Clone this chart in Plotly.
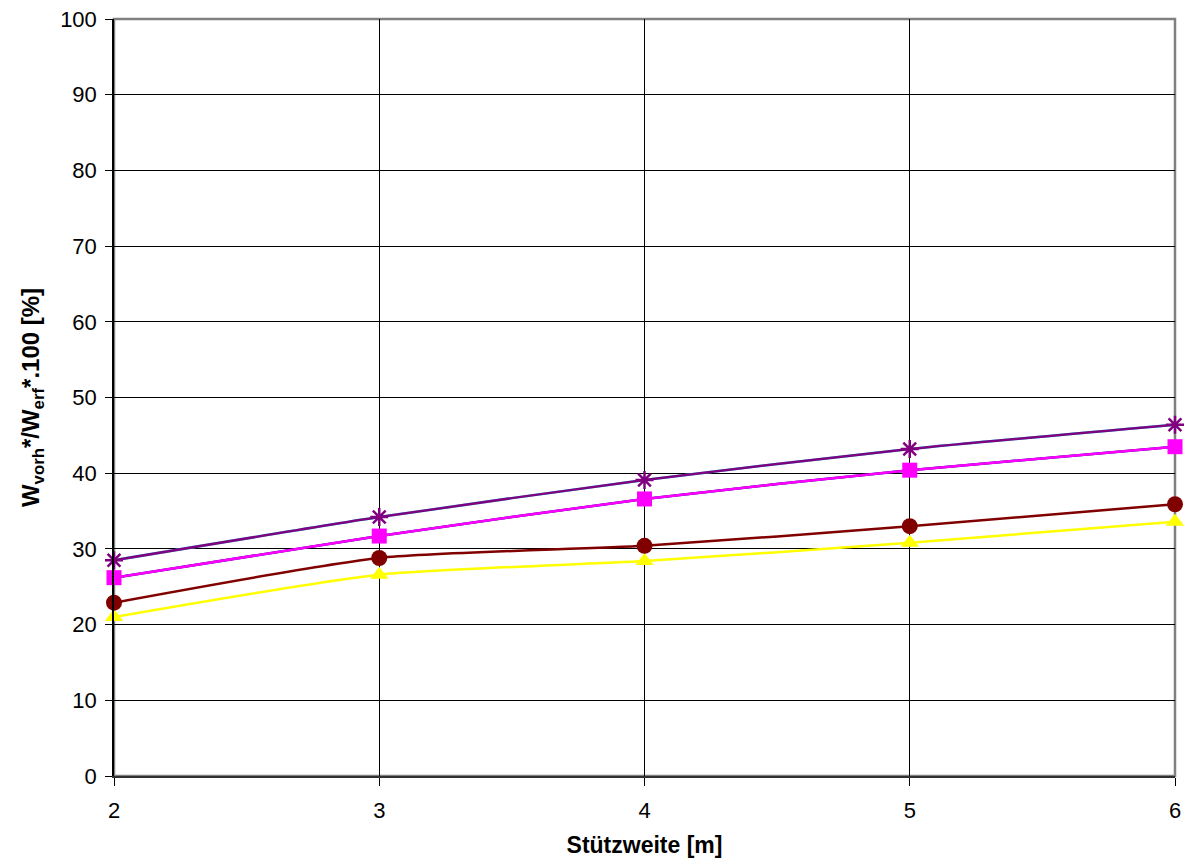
import plotly.graph_objects as go

x_span = [2, 3, 4, 5, 6]
s_navy = [26.2, 31.7, 36.6, 40.4, 43.5]
s_magenta = [26.2, 31.7, 36.6, 40.4, 43.5]
s_yellow = [21.0, 26.6, 28.4, 30.8, 33.6]
s_cyan = [28.5, 34.2, 39.1, 43.2, 46.4]
s_purple = [28.5, 34.2, 39.1, 43.2, 46.4]
s_darkred = [22.9, 28.8, 30.4, 33.0, 35.9]

fig = go.Figure()

def add(y, color, symbol=None, size=13, width=2.5, lw=None):
    fig.add_trace(go.Scatter(
        x=x_span, y=y, mode="lines+markers" if symbol else "lines",
        line=dict(color=color, width=width, shape="spline", smoothing=0.6),
        marker=dict(symbol=symbol, size=size, color=color,
                    line=dict(color=color, width=lw if lw else 0)) if symbol else None,
        showlegend=False, cliponaxis=False))

add(s_navy, "#000080")
add(s_cyan, "#00FFFF")
add(s_magenta, "#FF00FF", "square", 15)
add(s_yellow, "#FFFF00", "triangle-up", 16)
add(s_purple, "#800080", "asterisk-open", 15, lw=2.5)
add(s_darkred, "#800000", "circle", 16)

fig.update_layout(
    width=1185, height=867,
    margin=dict(l=114, r=10, t=19, b=91),
    paper_bgcolor="white", plot_bgcolor="white",
    font=dict(family="Liberation Sans, Arial, sans-serif", size=22, color="black"),
)
fig.update_xaxes(
    range=[2, 6], tickvals=x_span, ticks="outside", ticklen=8, tickcolor="black",
    ticklabelstandoff=6, automargin=False,
    showgrid=True, gridcolor="black", gridwidth=1,
    showline=True, linecolor="#303030", linewidth=2, mirror=False,
    zeroline=False,
    title=dict(text="<b>Stützweite [m]</b>", font=dict(size=23), standoff=14),
)
fig.update_yaxes(
    range=[0, 100], dtick=10, ticks="outside", ticklen=7, tickcolor="black",
    ticklabelstandoff=4, automargin=False,
    showgrid=True, gridcolor="black", gridwidth=1,
    showline=True, linecolor="black", linewidth=1.5,
    zeroline=False,
    title=dict(text="<b>W<sub>vorh</sub>*/W<sub>erf</sub>*.100 [%]</b>", font=dict(size=24), standoff=14),
)
fig.add_shape(type="rect", xref="paper", yref="paper", x0=0, x1=1, y0=0, y1=1,
              line=dict(color="#808080", width=2.5), layer="below")

fig.write_html("out.html", config={"displayModeBar": False},
               post_script="document.body.style.margin='0';document.body.style.overflow='hidden';")
